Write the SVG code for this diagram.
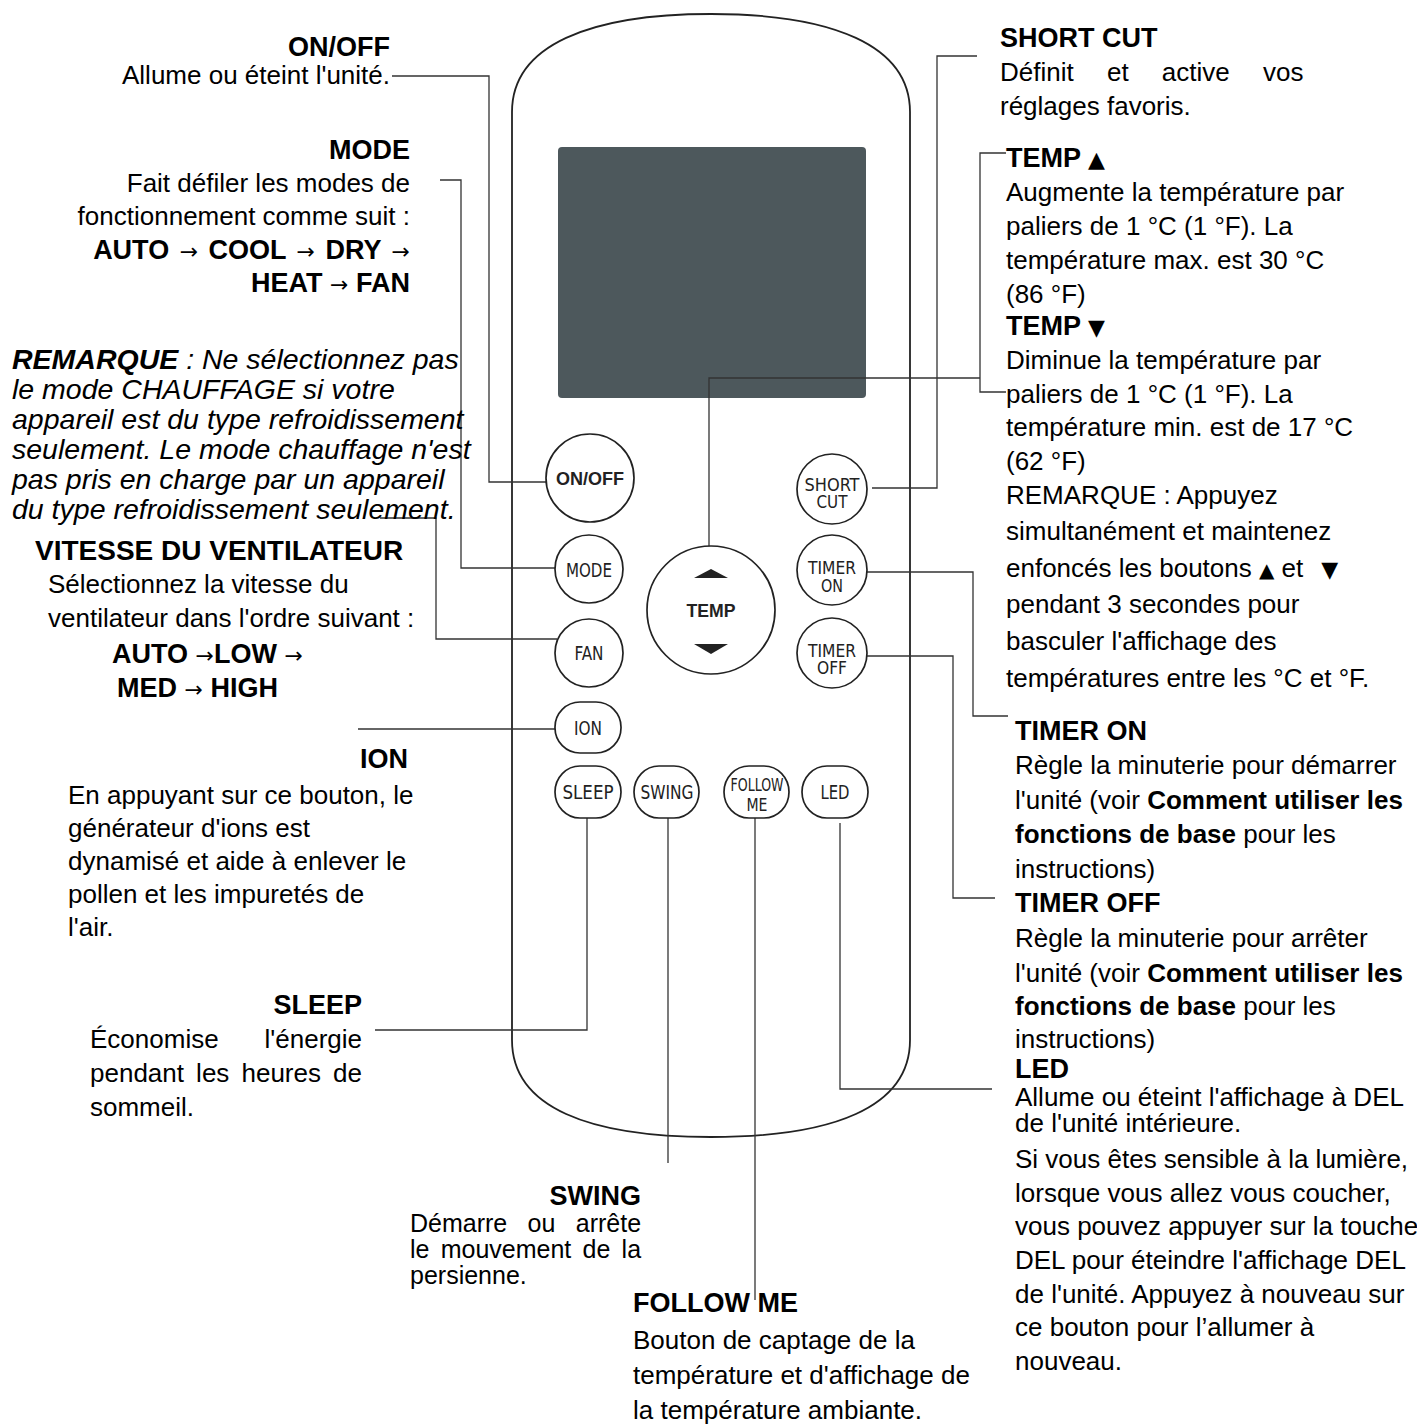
<svg xmlns="http://www.w3.org/2000/svg" width="1417" height="1428" viewBox="0 0 1417 1428">
<style>
.t{font-family:"Liberation Sans",Arial,sans-serif;font-size:26px;fill:#000}
.h{font-family:"Liberation Sans",Arial,sans-serif;font-size:27px;font-weight:bold;fill:#000}
.b{font-weight:bold}
.it{font-family:"Liberation Sans",Arial,sans-serif;font-size:28.5px;font-style:italic;fill:#000}
.s{font-family:"Liberation Sans",Arial,sans-serif;font-size:25px;fill:#000}
.r{text-anchor:end}
.ar{font-family:"DejaVu Sans",sans-serif;font-size:22px;font-weight:normal}
.tri{font-family:"DejaVu Sans",sans-serif;font-size:22px}
.tri2{font-family:"DejaVu Sans",sans-serif;font-size:20px}
.btn{fill:#fff;stroke:#222;stroke-width:1.7}
.bt{font-family:"Liberation Sans Narrow","DejaVu Sans Condensed","Liberation Sans",sans-serif;font-size:19px;fill:#222;text-anchor:middle}
.bt2{font-family:"Liberation Sans Narrow","DejaVu Sans Condensed","Liberation Sans",sans-serif;font-size:17px;fill:#222;text-anchor:middle}
.bb{font-family:"Liberation Sans",Arial,sans-serif;font-size:18px;font-weight:bold;fill:#222;text-anchor:middle}
.ln{fill:none;stroke:#333;stroke-width:1.3}
</style>

<g id="remote">
<path d="M512,112 C512,45 590,14 711,14 C832,14 910,45 910,112 L910,1040 C910,1108 832,1137 711,1137 C590,1137 512,1108 512,1040 Z" fill="#fff" stroke="#222" stroke-width="1.8"/>
<rect x="558" y="147" width="308" height="251" rx="4" fill="#4d585c"/>
</g>

<g id="connectors">
<path class="ln" d="M392,76 H489 V482 H546"/>
<path class="ln" d="M440,180 H461 V568 H555"/>
<path class="ln" d="M380,518 H436 V639 H557"/>
<path class="ln" d="M358,729 H555"/>
<path class="ln" d="M375,1030 H587 V818"/>
<path class="ln" d="M668,818 V1163"/>
<path class="ln" d="M755,818 V1300"/>
<path class="ln" d="M840,823 V1089 H992"/>
<path class="ln" d="M867,656 H953 V898 H995"/>
<path class="ln" d="M867,572 H973 V716 H1008"/>
<path class="ln" d="M872,488 H937 V56 H977"/>
<path class="ln" d="M709,546 V378 H980"/>
<path class="ln" d="M1006,153 H980 V392 H1006"/>
</g>

<g id="btn-onoff"><circle class="btn" cx="590" cy="478" r="44"/><text class="bb" x="590" y="485" textLength="68" lengthAdjust="spacingAndGlyphs">ON/OFF</text></g>
<g id="btn-mode"><circle class="btn" cx="589" cy="569" r="34"/><text class="bt" x="589" y="577" textLength="46" lengthAdjust="spacingAndGlyphs">MODE</text></g>
<g id="btn-fan"><circle class="btn" cx="589" cy="653" r="34"/><text class="bt" x="589" y="660" textLength="29" lengthAdjust="spacingAndGlyphs">FAN</text></g>
<g id="btn-ion"><rect class="btn" x="555" y="702" width="66" height="51" rx="25" ry="25"/><text class="bt" x="588" y="735" textLength="28" lengthAdjust="spacingAndGlyphs">ION</text></g>
<g id="btn-sleep"><rect class="btn" x="555" y="766" width="66" height="52" rx="25" ry="26"/><text class="bt" x="588" y="799" textLength="51" lengthAdjust="spacingAndGlyphs">SLEEP</text></g>
<g id="btn-swing"><rect class="btn" x="634" y="766" width="65" height="52" rx="25" ry="26"/><text class="bt" x="667" y="799" textLength="53" lengthAdjust="spacingAndGlyphs">SWING</text></g>
<g id="btn-follow"><rect class="btn" x="724" y="766" width="65" height="52" rx="25" ry="26"/><text class="bt2" x="757" y="791" textLength="53" lengthAdjust="spacingAndGlyphs">FOLLOW</text><text class="bt2" x="757" y="811" textLength="21" lengthAdjust="spacingAndGlyphs">ME</text></g>
<g id="btn-led"><rect class="btn" x="802" y="766" width="66" height="52" rx="25" ry="26"/><text class="bt" x="835" y="799" textLength="29" lengthAdjust="spacingAndGlyphs">LED</text></g>
<g id="btn-temp"><circle class="btn" cx="711" cy="610" r="64"/>
<polygon points="694,578 711,569 728,578" fill="#222"/>
<polygon points="694,644 728,644 711,654" fill="#222"/>
<text class="bb" x="711" y="617" textLength="49" lengthAdjust="spacingAndGlyphs">TEMP</text></g>
<g id="btn-shortcut"><circle class="btn" cx="832" cy="489" r="35"/><text class="bt2" x="832" y="491" textLength="55" lengthAdjust="spacingAndGlyphs">SHORT</text><text class="bt2" x="832" y="508" textLength="31" lengthAdjust="spacingAndGlyphs">CUT</text></g>
<g id="btn-timeron"><circle class="btn" cx="832" cy="570" r="35"/><text class="bt2" x="832" y="574" textLength="48" lengthAdjust="spacingAndGlyphs">TIMER</text><text class="bt2" x="832" y="592" textLength="22" lengthAdjust="spacingAndGlyphs">ON</text></g>
<g id="btn-timeroff"><circle class="btn" cx="832" cy="653" r="35"/><text class="bt2" x="832" y="657" textLength="48" lengthAdjust="spacingAndGlyphs">TIMER</text><text class="bt2" x="832" y="674" textLength="30" lengthAdjust="spacingAndGlyphs">OFF</text></g>

<g id="lbl-onoff">
<text class="h r" x="390" y="56">ON/OFF</text>
<text class="t r" x="390" y="84">Allume ou éteint l'unité.</text>
</g>

<g id="lbl-mode">
<text class="h r" x="410" y="159">MODE</text>
<text class="t r" x="410" y="192">Fait défiler les modes de</text>
<text class="t r" x="410" y="225">fonctionnement comme suit :</text>
<text class="h r" x="410" y="259" word-spacing="3">AUTO <tspan class="ar">→</tspan> COOL <tspan class="ar">→</tspan> DRY <tspan class="ar">→</tspan></text>
<text class="h r" x="410" y="292">HEAT <tspan class="ar">→</tspan> FAN</text>
</g>

<g id="lbl-remarque">
<text class="it" x="12" y="369"><tspan class="b">REMARQUE</tspan> : Ne sélectionnez pas</text>
<text class="it" x="12" y="399">le mode CHAUFFAGE si votre</text>
<text class="it" x="12" y="429">appareil est du type refroidissement</text>
<text class="it" x="12" y="459">seulement. Le mode chauffage n'est</text>
<text class="it" x="12" y="489">pas pris en charge par un appareil</text>
<text class="it" x="12" y="519">du type refroidissement seulement.</text>
</g>

<g id="lbl-fan">
<text class="h" x="35" y="560" style="font-size:28px">VITESSE DU VENTILATEUR</text>
<text class="t" x="48" y="593">Sélectionnez la vitesse du</text>
<text class="t" x="48" y="627">ventilateur dans l'ordre suivant :</text>
<text class="h" x="112" y="663">AUTO <tspan class="ar">→</tspan>LOW <tspan class="ar">→</tspan></text>
<text class="h" x="117" y="697">MED <tspan class="ar">→</tspan> HIGH</text>
</g>

<g id="lbl-ion">
<text class="h r" x="408" y="768">ION</text>
<text class="t" x="68" y="804">En appuyant sur ce bouton, le</text>
<text class="t" x="68" y="837">générateur d'ions est</text>
<text class="t" x="68" y="870">dynamisé et aide à enlever le</text>
<text class="t" x="68" y="903">pollen et les impuretés de</text>
<text class="t" x="68" y="936">l'air.</text>
</g>

<g id="lbl-sleep">
<text class="h r" x="362" y="1014">SLEEP</text>
<text class="t" x="90" y="1048">Économise</text><text class="t r" x="362" y="1048">l'énergie</text>
<text class="t" x="90" y="1082" word-spacing="4.9">pendant les heures de</text>
<text class="t" x="90" y="1116">sommeil.</text>
</g>

<g id="lbl-swing">
<text class="h r" x="641" y="1205">SWING</text>
<text class="s" x="410" y="1232" word-spacing="13.4">Démarre ou arrête</text>
<text class="s" x="410" y="1258" word-spacing="4.3">le mouvement de la</text>
<text class="s" x="410" y="1284">persienne.</text>
</g>

<g id="lbl-follow">
<text class="h" x="633" y="1312">FOLLOW ME</text>
<text class="t" x="633" y="1349">Bouton de captage de la</text>
<text class="t" x="633" y="1384">température et d'affichage de</text>
<text class="t" x="633" y="1419">la température ambiante.</text>
</g>

<g id="lbl-shortcut">
<text class="h" x="1000" y="47">SHORT CUT</text>
<text class="t" x="1000" y="81" word-spacing="26">Définit et active vos</text>
<text class="t" x="1000" y="115">réglages favoris.</text>
</g>

<g id="lbl-temp">
<text class="h" x="1006" y="167">TEMP <tspan class="tri">▲</tspan></text>
<text class="t" x="1006" y="201">Augmente la température par</text>
<text class="t" x="1006" y="235">paliers de 1 °C (1 °F). La</text>
<text class="t" x="1006" y="269">température max. est 30 °C</text>
<text class="t" x="1006" y="303">(86 °F)</text>
<text class="h" x="1006" y="335">TEMP <tspan class="tri">▼</tspan></text>
<text class="t" x="1006" y="369">Diminue la température par</text>
<text class="t" x="1006" y="403">paliers de 1 °C (1 °F). La</text>
<text class="t" x="1006" y="436">température min. est de 17 °C</text>
<text class="t" x="1006" y="470">(62 °F)</text>
<text class="t" x="1006" y="504">REMARQUE : Appuyez</text>
<text class="t" x="1006" y="540">simultanément et maintenez</text>
<text class="t" x="1006" y="577">enfoncés les boutons <tspan class="tri2">▲</tspan> et<tspan class="tri" dx="18">▼</tspan></text>
<text class="t" x="1006" y="613">pendant 3 secondes pour</text>
<text class="t" x="1006" y="650">basculer l'affichage des</text>
<text class="t" x="1006" y="687">températures entre les °C et °F.</text>
</g>

<g id="lbl-timeron">
<text class="h" x="1015" y="740">TIMER ON</text>
<text class="t" x="1015" y="774">Règle la minuterie pour démarrer</text>
<text class="t" x="1015" y="809">l'unité (voir <tspan class="b">Comment utiliser les</tspan></text>
<text class="t" x="1015" y="843"><tspan class="b">fonctions de base</tspan> pour les</text>
<text class="t" x="1015" y="878">instructions)</text>
</g>

<g id="lbl-timeroff">
<text class="h" x="1015" y="912">TIMER OFF</text>
<text class="t" x="1015" y="947">Règle la minuterie pour arrêter</text>
<text class="t" x="1015" y="982">l'unité (voir <tspan class="b">Comment utiliser les</tspan></text>
<text class="t" x="1015" y="1015"><tspan class="b">fonctions de base</tspan> pour les</text>
<text class="t" x="1015" y="1048">instructions)</text>
</g>

<g id="lbl-led">
<text class="h" x="1015" y="1078">LED</text>
<text class="t" x="1015" y="1106">Allume ou éteint l'affichage à DEL</text>
<text class="t" x="1015" y="1132">de l'unité intérieure.</text>
<text class="t" x="1015" y="1168">Si vous êtes sensible à la lumière,</text>
<text class="t" x="1015" y="1202">lorsque vous allez vous coucher,</text>
<text class="t" x="1015" y="1235">vous pouvez appuyer sur la touche</text>
<text class="t" x="1015" y="1269">DEL pour éteindre l'affichage DEL</text>
<text class="t" x="1015" y="1303">de l'unité. Appuyez à nouveau sur</text>
<text class="t" x="1015" y="1336">ce bouton pour l’allumer à</text>
<text class="t" x="1015" y="1370">nouveau.</text>
</g>
</svg>
